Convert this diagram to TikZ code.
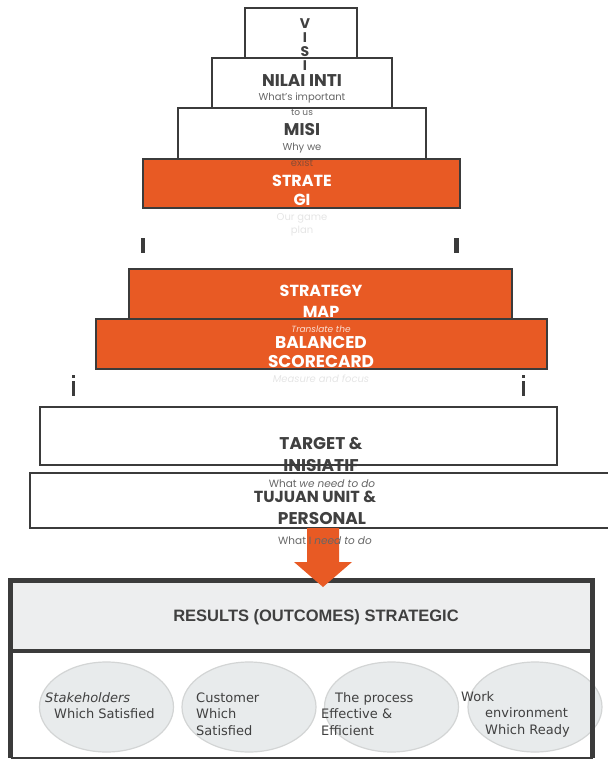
\documentclass[tikz,border=0pt]{standalone}
\usepackage{fontspec}
\setmainfont{Poppins}
\newfontfamily\ovalfont{DejaVu Sans}
\newfontfamily\bannerfont{Liberation Sans}
\usetikzlibrary{shapes.geometric}
\definecolor{burnt}{HTML}{E85A24}
\definecolor{edge}{HTML}{3B3B3B}
\definecolor{ink}{HTML}{404040}
\definecolor{softink}{HTML}{666666}
\definecolor{headfill}{HTML}{EDEEEF}
\definecolor{ovalfill}{HTML}{E8EBEC}
\definecolor{ovaledge}{HTML}{D3D5D5}

\begin{document}
\begin{tikzpicture}[x=1pt,y=-1pt,
  tierfill/.style={fill=white,inner sep=0,outer sep=0},
  hotfill/.style={fill=burnt,inner sep=0,outer sep=0},
  tierline/.style={draw=edge,line width=2pt},
  heading/.style={font=\bfseries\fontsize{#1}{#1}\selectfont,text=ink,inner sep=0,align=center},
  hotheading/.style={heading=#1,text=white},
  note/.style={font=\fontsize{#1}{#1}\selectfont,text=softink,inner sep=0,align=center},
  oval/.style={ellipse,fill=ovalfill,draw=ovaledge,line width=1.2pt,minimum width=134,minimum height=90,inner sep=0},
  ovaltext/.style={font=\ovalfont\fontsize{13}{16.5}\selectfont,text=ink,inner sep=0,align=left,anchor=west},
  tick/.style={fill=edge}
]
\useasboundingbox (0,0) rectangle (608,761);

% pyramid tiers (fills first, outlines after the labels)
\node[tierfill,minimum width=112,minimum height=50] (visi) at (301,33) {};
\node[tierfill,minimum width=180,minimum height=50] (nilai) at (302,83) {};
\node[tierfill,minimum width=248,minimum height=51] (misi) at (302,133.5) {};
\node[hotfill,minimum width=317,minimum height=49] (strategi) at (301.5,183.5) {};
\node[hotfill,minimum width=383,minimum height=50] (smap) at (320.5,294) {};
\node[hotfill,minimum width=451,minimum height=50] (bsc) at (321.5,344) {};
\node[tierfill,minimum width=517,minimum height=58] (target) at (298.5,436) {};
\node[tierfill,minimum width=585,minimum height=55] (tujuan) at (322.5,500.5) {};

% small separator ticks
\fill[tick] (140.5,238) rectangle (145,253);
\fill[tick] (454,238) rectangle (458.5,253);
\fill[tick] (71.5,375) rectangle (74.5,378);
\fill[tick] (71.5,381) rectangle (74.5,396);
\fill[tick] (521.5,375) rectangle (524.5,378);
\fill[tick] (521.5,381) rectangle (524.5,396);

% tier labels
\node[heading=14,font=\bfseries\fontsize{14}{14}\selectfont] (visiT) at (305,44.5) {V\\I\\S\\I};
\node[heading=17] (nilaiT) at (302,81) {NILAI INTI};
\node[note=10] (nilaiS) at (302,98) {What's important};
\node[note=9] (nilaiS2) at (302,112) {to us};
\node[heading=17] (misiT) at (302,130) {MISI};
\node[note=10] (misiS) at (302,148) {Why we};
\node[note=10,text=ink!55!burnt] (misiS2) at (302,162.5) {exist};
\node[hotheading=16,font=\bfseries\fontsize{16}{19}\selectfont] (strategiT) at (302,190.5) {STRATE\\GI};
\node[note=10,text=black!10,font=\fontsize{10}{13}\selectfont] (strategiS) at (302,225) {Our game\\plan};
\node[hotheading=16,font=\bfseries\fontsize{16}{20.5}\selectfont] (smapT) at (321,301.5) {STRATEGY\\MAP};
\node[note=9,text=burnt!20,font=\itshape\fontsize{9}{9}\selectfont] (bscS) at (321,329) {Translate the};
\node[hotheading=17,font=\bfseries\fontsize{17}{19.5}\selectfont] (bscT) at (321,352) {BALANCED\\SCORECARD};
\node[note=10,text=black!10,font=\itshape\fontsize{10}{10}\selectfont] (bscS2) at (321,378.5) {Measure and focus};
\node[heading=17,font=\bfseries\fontsize{17}{22}\selectfont] (targetT) at (321,454) {TARGET \&\\INISIATIF};
\node[note=10.5] (targetS) at (322,483.5) {What \textit{we need to do}};
\node[heading=16] (tujuanT) at (315,497) {TUJUAN UNIT \&};
\node[heading=17] (tujuanT2) at (322,518) {PERSONAL};

% tier outlines
\foreach \b in {visi,nilai,misi,strategi,smap,bsc,target,tujuan}
  \draw[tierline] (\b.north west) rectangle (\b.south east);

% results panel
\node[fill=headfill,inner sep=0,outer sep=0,minimum width=582,minimum height=70.5] (results) at (301.5,615.75) {};
\node[fill=white,inner sep=0,outer sep=0,minimum width=582,minimum height=107] (outcomes) at (301.5,704.5) {};

\node[oval] (o1) at (106.5,707) {};
\node[oval] (o2) at (249,707) {};
\node[oval] (o3) at (391.5,707) {};
\node[oval] (o4) at (535,707) {};

\draw[edge,line width=4.5pt] (results.north west) rectangle (results.south east);
\draw[edge,line width=4.5pt] (outcomes.north west) -- (outcomes.south west);
\draw[edge,line width=4.5pt] (outcomes.north east) -- (outcomes.south east);
\draw[edge,line width=2pt] (outcomes.south west) -- (outcomes.south east);

\node[font=\bannerfont\bfseries\fontsize{16.5}{16.5}\selectfont,text=ink,inner sep=0] (resultsT) at (316,617) {RESULTS (OUTCOMES) STRATEGIC};

\node[ovaltext] (o1T) at (45,705.5) {\textit{Stakeholders}\\\hspace*{9pt}Which Satisfied};
\node[ovaltext] (o2T) at (196,714) {Customer\\Which\\Satisfied};
\node[ovaltext] (o3T) at (321,714) {\hspace*{14pt}The process\\Effective \&\\Efficient};
\node[ovaltext] (o4T) at (461,714) {Work\\\hspace*{24pt}environment\\\hspace*{24pt}Which Ready};

% block arrow from the last tier down into the results panel
\coordinate (arrowbase) at (323,528);
\coordinate (arrowtip) at (323,587);
\fill[burnt] (arrowbase) ++(-16,0) -- ++(0,34) -- ++(-13,0) -- (arrowtip) -- ++(29,-25) -- ++(-13,0) -- ++(0,-34) -- cycle;

\node[note=10.5] (tujuanS) at (325,540.5) {What I \textit{need to do}};
\end{tikzpicture}
\end{document}
